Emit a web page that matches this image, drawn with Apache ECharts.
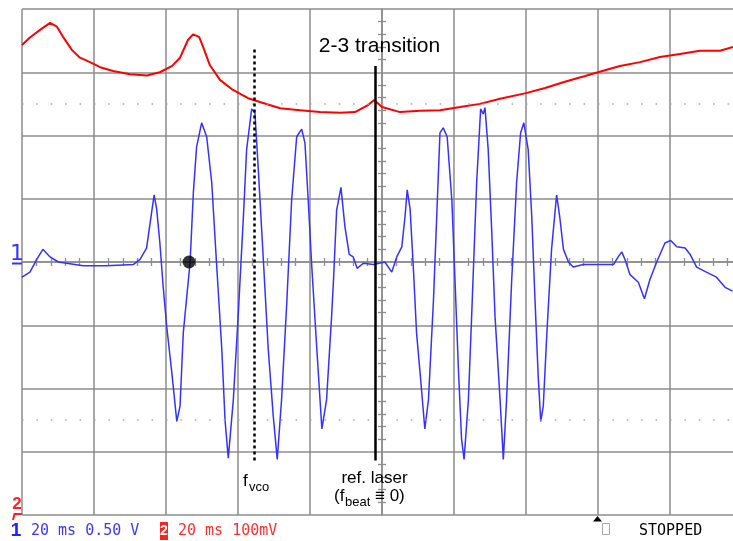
<!DOCTYPE html>
<html>
<head>
<meta charset="utf-8">
<script src="https://cdn.jsdelivr.net/npm/echarts@6/dist/echarts.min.js"></script>
<style>
html,body{margin:0;padding:0;background:#fff;}
#scope{width:733px;height:541px;}
</style>
</head>
<body>
<div id="scope"></div>
<script>
// channel 1 (blue): beat signal, time in ms, 0.50 V/div
var ch1Time = [0, 2.2, 4.1, 5.8, 7.8, 10.1, 17.0, 23.5, 30.9, 32.8,
    34.6, 36.0, 36.7, 37.4, 38.3, 39.2, 40.2, 41.6, 43.0, 43.9,
    44.8, 46.7, 47.6, 48.5, 49.9, 51.3, 52.7, 54.1, 55.5, 56.4,
    57.3, 58.7, 60.1, 61.5, 62.4, 63.8, 64.7, 65.6, 67.0, 68.4,
    69.8, 70.9, 72.1, 73.5, 74.9, 76.3, 77.7, 78.6, 79.5, 80.5,
    81.9, 83.3, 84.6, 86.0, 86.5, 87.4, 88.6, 89.7, 90.9, 92.0,
    93.1, 94.8, 97.6, 100.8, 102.7, 104.1, 105.5, 106.4, 107.0, 107.8,
    108.7, 109.6, 110.8, 111.9, 112.9, 114.3, 115.2, 116.1, 117.0, 118.1,
    119.4, 120.3, 121.2, 122.1, 122.8, 124.0, 124.9, 126.3, 127.4, 128.1,
    128.6, 129.5, 130.5, 131.4, 132.8, 133.7, 134.6, 136.0, 137.4, 138.5,
    139.4, 140.6, 141.6, 142.5, 143.4, 144.1, 144.8, 145.8, 147.1, 148.5,
    149.4, 150.4, 151.8, 153.1, 155.9, 160.6, 164.3, 165.6, 166.6, 167.5,
    168.9, 171.2, 172.9, 174.4, 176.3, 178.6, 180.2, 181.9, 184.2, 185.6,
    187.4, 190.1, 192.9, 195.3, 197.4];
var ch1Volt = [-0.12, -0.08, 0.02, 0.10, 0.04, 0.0, -0.03, -0.03, -0.02, 0.02,
    0.11, 0.39, 0.53, 0.42, 0.15, -0.19, -0.51, -0.87, -1.26, -1.14,
    -0.56, 0.0, 0.55, 0.91, 1.10, 0.99, 0.63, -0.04, -0.69, -1.25,
    -1.55, -1.09, -0.40, 0.36, 0.89, 1.21, 1.18, 0.75, 0.04, -0.69,
    -1.22, -1.56, -1.09, -0.35, 0.49, 0.99, 1.05, 0.94, 0.49, -0.04,
    -0.69, -1.32, -1.09, -0.43, -0.16, 0.41, 0.59, 0.28, 0.06, 0.04,
    -0.05, -0.01, -0.02, 0.0, -0.08, 0.04, 0.12, 0.36, 0.57, 0.42,
    -0.04, -0.56, -0.95, -1.32, -1.09, -0.30, 0.36, 1.02, 1.06, 0.99,
    0.49, -0.16, -0.83, -1.40, -1.56, -1.09, -0.43, 0.63, 1.21, 1.17,
    1.22, 0.89, 0.23, -0.43, -1.09, -1.56, -1.09, -0.16, 0.63, 1.02,
    1.10, 0.89, 0.36, -0.30, -0.91, -1.26, -1.14, -0.56, 0.10, 0.53,
    0.35, 0.10, 0.0, -0.04, -0.02, -0.02, -0.02, 0.04, 0.08, 0.02,
    -0.10, -0.16, -0.29, -0.14, 0.0, 0.15, 0.17, 0.12, 0.11, 0.06,
    -0.04, -0.08, -0.12, -0.20, -0.23];

// channel 2 (red): 100 mV/div, ground at bottom of screen
var ch2Time = [0, 2.2, 5.0, 7.8, 9.7, 11.4, 13.9, 16.1, 18.9, 21.7,
    25.3, 30.0, 34.7, 38.3, 41.7, 43.9, 46.1, 47.5, 49.2, 50.3,
    52.2, 55.0, 58.6, 62.8, 66.1, 71.7, 77.2, 82.8, 88.3, 92.5,
    96.1, 97.8, 100.0, 105.0, 110.6, 116.1, 121.7, 127.2, 132.8, 140.0,
    145.3, 150.8, 156.4, 160.0, 166.1, 171.7, 177.2, 182.8, 188.3, 193.9, 197.5];
var ch2MilliVolt = [743, 755, 767, 778, 772, 756, 735, 723, 716, 708,
    702, 697, 695, 700, 710, 723, 751, 760, 756, 740,
    711, 688, 672, 659, 653, 643, 640, 637, 636, 637,
    648, 656, 645, 637, 639, 640, 645, 650, 658, 667,
    675, 685, 694, 700, 710, 716, 724, 729, 734, 734, 740];

// annotations
var fvcoTime = 64.6;
var fvcoSpan = [1.68, -1.57];
var refLaserTime = 98.1;
var refLaserSpan = [1.55, -1.57];
var dotPoint = [46.4, 0];
var dottedLevels = [1.25, -1.25];

var gridColor = '#8c8c8c';

function zip(xs, ys) {
    return xs.map(function (x, i) { return [x, ys[i]]; });
}

function centerAxis(base) {
    var axis = {
        type: 'value',
        axisLine: {show: true, onZero: true, lineStyle: {color: gridColor, width: 1.5}},
        axisTick: {show: false},
        minorTick: {show: true, splitNumber: 5, length: 4, lineStyle: {color: gridColor, width: 1.3}},
        axisLabel: {show: false},
        splitLine: {show: false}
    };
    return Object.assign(axis, base);
}

var chart = echarts.init(document.getElementById('scope'));

var monoFont = '15px "DejaVu Sans Mono"';
var sansFont = '"Liberation Sans", Arial, sans-serif';

var option = {
    animation: false,
    backgroundColor: '#fff',
    grid: {left: 22, top: 9, width: 720, height: 506, outerBoundsMode: 'none'},
    xAxis: [
        {
            type: 'value', min: 0, max: 200, interval: 20,
            axisLine: {show: false}, axisTick: {show: false}, axisLabel: {show: false},
            splitLine: {show: true, lineStyle: {color: gridColor, width: 1.5}}
        },
        centerAxis({min: 0, max: 200, interval: 20, position: 'bottom', axisLine: {show: true, onZero: true, onZeroAxisIndex: 0, lineStyle: {color: gridColor, width: 1.5}}}),
        centerAxis({min: 0, max: 200, interval: 20, position: 'top', axisLine: {show: false, onZero: true, onZeroAxisIndex: 0}}),
        {type: 'value', min: -100, max: 100, show: false}
    ],
    yAxis: [
        {
            type: 'value', min: -2, max: 2, interval: 0.5,
            axisLine: {show: false}, axisTick: {show: false}, axisLabel: {show: false},
            splitLine: {show: true, lineStyle: {color: gridColor, width: 1.5}}
        },
        {type: 'value', min: 0, max: 800, interval: 100, show: false},
        centerAxis({min: -2, max: 2, interval: 0.5, position: 'left', axisLine: {show: true, onZero: true, onZeroAxisIndex: 3, lineStyle: {color: gridColor, width: 1.5}}}),
        centerAxis({min: -2, max: 2, interval: 0.5, position: 'right', axisLine: {show: false, onZero: true, onZeroAxisIndex: 3}})
    ],
    series: [
        {
            name: 'ch2',
            type: 'line',
            xAxisIndex: 0,
            yAxisIndex: 1,
            data: zip(ch2Time, ch2MilliVolt),
            showSymbol: false,
            silent: true,
            lineStyle: {color: '#ff0000', width: 2},
            z: 3
        },
        {
            name: 'ch1',
            type: 'line',
            xAxisIndex: 0,
            yAxisIndex: 0,
            data: zip(ch1Time, ch1Volt),
            showSymbol: false,
            silent: true,
            lineStyle: {color: '#3333ff', width: 1.5},
            z: 4,
            markLine: {
                silent: true,
                symbol: ['none', 'none'],
                label: {show: false},
                emphasis: {disabled: true},
                data: [
                    {yAxis: dottedLevels[0], lineStyle: {color: '#a8a8a8', type: [1.5, 12.9], width: 1.5}},
                    {yAxis: dottedLevels[1], lineStyle: {color: '#a8a8a8', type: [1.5, 12.9], width: 1.5}},
                    [
                        {coord: [fvcoTime, fvcoSpan[0]], lineStyle: {color: '#000', type: [3, 3], width: 2.5}},
                        {coord: [fvcoTime, fvcoSpan[1]]}
                    ],
                    [
                        {coord: [refLaserTime, refLaserSpan[0]], lineStyle: {color: '#000', type: 'solid', width: 2.5}},
                        {coord: [refLaserTime, refLaserSpan[1]]}
                    ]
                ]
            }
        },
        {
            name: 'marker',
            type: 'scatter',
            xAxisIndex: 0,
            yAxisIndex: 0,
            data: [dotPoint],
            symbolSize: 13,
            silent: true,
            itemStyle: {color: '#000'},
            z: 6
        }
    ],
    graphic: [
        {type: 'text', x: 379.5, y: 46.5, z: 10, style: {text: '2-3 transition', font: '21px ' + sansFont, fill: '#000', align: 'center', verticalAlign: 'middle'}},
        {type: 'text', x: 243, y: 481.5, z: 10, style: {text: 'f', font: '17px ' + sansFont, fill: '#000', verticalAlign: 'middle'}},
        {type: 'text', x: 249, y: 487.5, z: 10, style: {text: 'vco', font: '13px ' + sansFont, fill: '#000', verticalAlign: 'middle'}},
        {type: 'text', x: 374.5, y: 478, z: 10, style: {text: 'ref. laser', font: '17px ' + sansFont, fill: '#000', align: 'center', verticalAlign: 'middle'}},
        {type: 'text', x: 334, y: 496.5, z: 10, style: {text: '(f', font: '17px ' + sansFont, fill: '#000', verticalAlign: 'middle'}},
        {type: 'text', x: 345, y: 502, z: 10, style: {text: 'beat', font: '13px ' + sansFont, fill: '#000', verticalAlign: 'middle'}},
        {type: 'text', x: 375, y: 496.5, z: 10, style: {text: '\u2261 0)', font: '17px ' + sansFont, fill: '#000', verticalAlign: 'middle'}},

        // channel markers at the left edge
        {type: 'text', x: 17, y: 254, z: 10, style: {text: '1', font: '22px "DejaVu Sans"', fill: '#3333ff', align: 'center', verticalAlign: 'middle'}},
        {type: 'line', z: 10, shape: {x1: 12, y1: 263.5, x2: 22, y2: 263.5}, style: {stroke: '#3333ff', lineWidth: 2}},
        {type: 'text', x: 17, y: 504, z: 10, style: {text: '2', font: 'bold 17px ' + sansFont, fill: '#ff2020', align: 'center', verticalAlign: 'middle'}},
        {type: 'polyline', z: 10, shape: {points: [[13, 520], [14.5, 514], [22, 514]]}, style: {stroke: '#ff2020', lineWidth: 2, fill: null}},

        // status line
        {type: 'text', x: 16, y: 531, z: 10, style: {text: '1', font: 'bold 19px ' + sansFont, fill: '#2222ff', align: 'center', verticalAlign: 'middle'}},
        {type: 'text', x: 31, y: 531, z: 10, style: {text: '20 ms 0.50 V', font: monoFont, fill: '#3a3aff', verticalAlign: 'middle'}},
        {type: 'rect', z: 10, shape: {x: 160, y: 522, width: 8, height: 18}, style: {fill: '#ff2020'}},
        {type: 'text', x: 164, y: 531, z: 11, style: {text: '2', font: 'bold 14px ' + sansFont, fill: '#fff', align: 'center', verticalAlign: 'middle'}},
        {type: 'text', x: 178, y: 531, z: 10, style: {text: '20 ms 100mV', font: monoFont, fill: '#ff3030', verticalAlign: 'middle'}},
        {type: 'polygon', z: 10, shape: {points: [[593, 521.5], [602, 521.5], [597.5, 516]]}, style: {fill: '#000'}},
        {type: 'rect', z: 10, shape: {x: 602.5, y: 523.5, width: 7, height: 11}, style: {fill: null, stroke: '#aaa', lineWidth: 1}},
        {type: 'text', x: 639, y: 531, z: 10, style: {text: 'STOPPED', font: monoFont, fill: '#000', verticalAlign: 'middle'}}
    ]
};

chart.setOption(option);
window.addEventListener('resize', function () { chart.resize(); });
</script>
</body>
</html>
